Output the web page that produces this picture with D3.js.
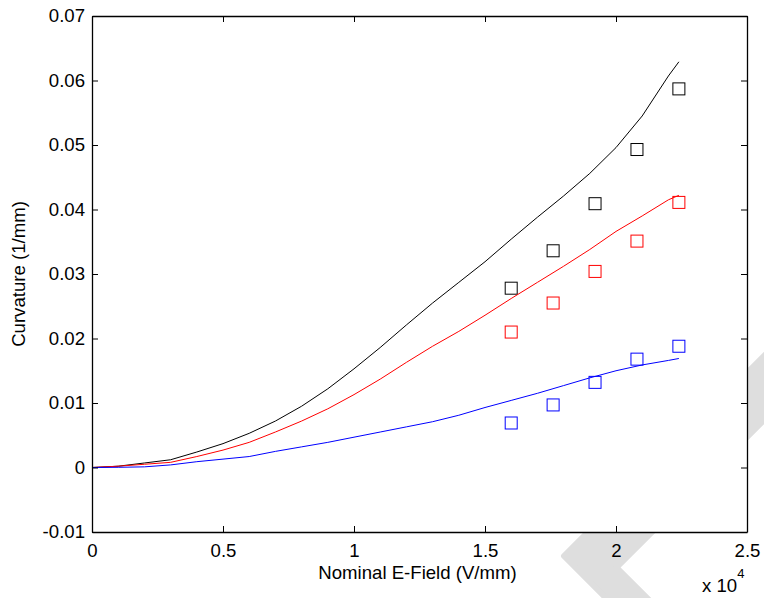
<!DOCTYPE html>
<html>
<head>
<meta charset="utf-8">
<script src="https://cdn.jsdelivr.net/npm/d3@7"></script>
<style>
  body { margin: 0; background: #fff; }
  text { font-family: "Liberation Sans", Arial, sans-serif; fill: #000; }
</style>
</head>
<body>
<svg width="764" height="598"></svg>
<script>
// E-field samples (V/mm) for the model curves
const fieldX = [0, 1000, 2000, 3000, 4000, 5000, 6000, 7000, 8000, 9000, 10000, 11000,
  12000, 13000, 14000, 15000, 16000, 17000, 18000, 19000, 20000, 21000, 22000, 22400];
const curveBlack = [0, 0.0002, 0.0007, 0.0012, 0.0024, 0.0037, 0.0053, 0.0072, 0.0095, 0.0122,
  0.0153, 0.0186, 0.0221, 0.0255, 0.0287, 0.0319, 0.0354, 0.0388, 0.0421, 0.0456, 0.0496,
  0.0545, 0.0607, 0.0629];
const curveRed = [0, 0.0002, 0.0005, 0.0008, 0.0017, 0.0027, 0.0039, 0.0055, 0.0072, 0.0091,
  0.0113, 0.0137, 0.0163, 0.0188, 0.0211, 0.0236, 0.0262, 0.0287, 0.0312, 0.0338, 0.0366,
  0.0390, 0.0415, 0.0422];
const curveBlue = [0, 0.00003, 0.0001, 0.0004, 0.0009, 0.0013, 0.0017, 0.0025, 0.0032, 0.0039,
  0.0047, 0.0055, 0.0063, 0.0071, 0.0081, 0.0093, 0.0104, 0.0115, 0.0127, 0.0139, 0.0150,
  0.0159, 0.0166, 0.0169];

// measured points (squares)
const measX = [16000, 17600, 19200, 20800, 22400];
const measBlack = [0.0278, 0.0336, 0.0409, 0.0493, 0.0587];
const measRed = [0.0210, 0.0255, 0.0304, 0.0351, 0.0411];
const measBlue = [0.0069, 0.0097, 0.0132, 0.0168, 0.0188];

const xTicks = [0, 5000, 10000, 15000, 20000, 25000];
const yTicks = [-0.01, 0, 0.01, 0.02, 0.03, 0.04, 0.05, 0.06, 0.07];

(function drawChart() {
  const series = [
    {color: "#000000", curve: curveBlack, meas: measBlack},
    {color: "#ff0000", curve: curveRed, meas: measRed},
    {color: "#0000ff", curve: curveBlue, meas: measBlue}
  ];

  const svg = d3.select("svg");
  const m = {left: 92, right: 747, top: 16, bottom: 532};
  const fs = "18.6px";

  const x = d3.scaleLinear().domain([0, 25000]).range([m.left, m.right]);
  const y = d3.scaleLinear().domain([-0.01, 0.07]).range([m.bottom, m.top]);

  // grey watermark behind the axes
  svg.append("path")
      .attr("d", "M564,556 L820,300 L820,364 L616.5,567.5 L669,620 L628,620 Z")
      .attr("fill", "#dedede")
      .attr("stroke", "#dedede")
      .attr("stroke-linejoin", "round")
      .attr("stroke-width", 6);

  svg.append("rect")
      .attr("x", m.left).attr("y", m.top)
      .attr("width", m.right - m.left).attr("height", m.bottom - m.top)
      .attr("fill", "#fff");

  // lines
  const line = d3.line()
      .x((d, i) => x(fieldX[i]))
      .y(d => y(d));

  const plot = svg.append("g");
  series.forEach(s => {
    plot.append("path")
        .datum(s.curve)
        .attr("d", line)
        .attr("fill", "none")
        .attr("stroke", s.color)
        .attr("stroke-width", 1);

    plot.selectAll(null)
        .data(s.meas)
        .join("rect")
        .attr("x", (d, i) => x(measX[i]) - 6)
        .attr("y", d => y(d) - 6)
        .attr("width", 12)
        .attr("height", 12)
        .attr("fill", "none")
        .attr("stroke", s.color)
        .attr("stroke-width", 1);
  });

  // axes, MATLAB style: ticks inward on all sides
  const tickLen = 6;
  const axB = svg.append("g").attr("transform", `translate(0,${m.bottom})`)
      .call(d3.axisBottom(x).tickValues(xTicks).tickSizeInner(-tickLen).tickSizeOuter(0)
        .tickPadding(12).tickFormat(d => d / 1e4));
  const axT = svg.append("g").attr("transform", `translate(0,${m.top})`)
      .call(d3.axisTop(x).tickValues(xTicks).tickSizeInner(-tickLen).tickSizeOuter(0).tickFormat(""));
  const axL = svg.append("g").attr("transform", `translate(${m.left},0)`)
      .call(d3.axisLeft(y).tickValues(yTicks).tickSizeInner(-tickLen).tickSizeOuter(0)
        .tickPadding(7).tickFormat(d => String(+d.toFixed(2))));
  const axR = svg.append("g").attr("transform", `translate(${m.right},0)`)
      .call(d3.axisRight(y).tickValues(yTicks).tickSizeInner(-tickLen).tickSizeOuter(0).tickFormat(""));

  [axB, axT, axL, axR].forEach(a => {
    a.select(".domain").attr("stroke", "#000").attr("stroke-width", 1.3);
    a.selectAll(".tick line").attr("stroke", "#000");
    a.selectAll("text").style("font-size", fs).attr("font-family", null);
  });

  svg.append("text")
      .attr("x", (m.left + m.right) / 2 - 2)
      .attr("y", 579)
      .attr("text-anchor", "middle")
      .style("font-size", fs)
      .text("Nominal E-Field (V/mm)");

  svg.append("text")
      .attr("transform", `translate(25,${(m.top + m.bottom) / 2}) rotate(-90)`)
      .attr("text-anchor", "middle")
      .style("font-size", fs)
      .text("Curvature (1/mm)");

  const expo = svg.append("text")
      .attr("x", 702)
      .attr("y", 592)
      .style("font-size", fs);
  expo.append("tspan").text("x 10");
  expo.append("tspan").attr("dy", -14).style("font-size", "13px").text("4");
})();
</script>
</body>
</html>
